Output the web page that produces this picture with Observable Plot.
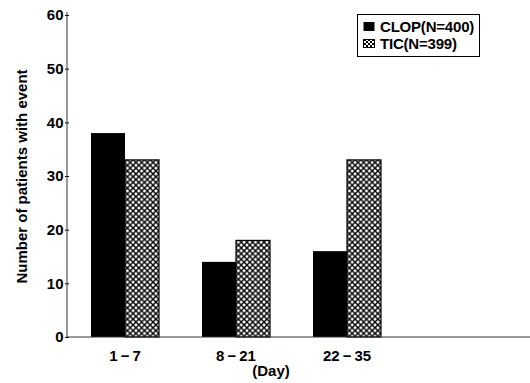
<!DOCTYPE html>
<html><head><meta charset="utf-8">
<script src="https://cdn.jsdelivr.net/npm/d3@7"></script>
<script src="https://cdn.jsdelivr.net/npm/@observablehq/plot@0.6"></script>
<style>
body{margin:0;background:#fff;}
#wrap{position:relative;width:530px;height:383px;font-family:"Liberation Sans",Arial,sans-serif;}
#legend{position:absolute;left:357px;top:14px;width:123px;height:43px;border:1px solid #000;box-sizing:border-box;background:#fff;font-weight:bold;font-size:15px;line-height:17px;padding-top:3px;padding-left:5px;letter-spacing:-0.2px;}
#legend .row{display:flex;align-items:center;height:17px;}
#legend svg{margin-right:3px;}
</style></head><body><div id="wrap"></div>
<script>
const days = ["1\u2009\u2212\u20097", "8\u2009\u2212\u200921", "22\u2009\u2212\u200935"];
const series = ["CLOP", "TIC"];
const clopValues = [38, 14, 16];
const ticValues = [33, 18, 33];
const legendLabels = ["CLOP(N=400)", "TIC(N=399)"];
const yTicks = [0, 10, 20, 30, 40, 50, 60];
const yLabel = "Number of patients with event";
const xLabel = "(Day)";

const rows = days.flatMap((day, i) => [
  {day, series: series[0], value: clopValues[i]},
  {day, series: series[1], value: ticValues[i]}
]);

const ML = 67, MT = 15, MB = 46, W = 530, H = 383;
const font = "'Liberation Sans', Arial, sans-serif";

const chart = Plot.plot({
  width: W, height: H,
  marginLeft: ML, marginRight: 128, marginTop: MT, marginBottom: MB,
  style: {fontFamily: font, fontSize: "15px", fontWeight: "bold", color: "#000", background: "#fff", overflow: "visible"},
  fx: {domain: days, padding: 0, insetLeft: 1.5, label: null, axis: null},
  x: {domain: series, paddingInner: 0, paddingOuter: 0.59, axis: null},
  y: {domain: [0, 60], label: null},
  marks: [
    Plot.barY(rows.filter(d => d.series === series[0]), {fx: "day", x: "series", y: "value", fill: "#000"}),
    Plot.barY(rows.filter(d => d.series === series[1]), {fx: "day", x: "series", y: "value", fill: "url(#xhatch)", stroke: "#000", strokeWidth: 1.2}),
    Plot.axisY({ticks: yTicks, tickSize: 4, tickPadding: 2, label: null, fontSize: 15, fontWeight: "bold"}),
    Plot.axisFx({anchor: "bottom", tickSize: 0, tickPadding: 13, label: null, fontSize: 15, fontWeight: "bold"}),
    Plot.text([{day: days[1]}], {fx: "day", frameAnchor: "bottom", dy: 38, dx: 35, text: () => xLabel, fontSize: 15, fontWeight: "bold"}),
    Plot.text([{day: days[0]}], {fx: "day", frameAnchor: "left", textAnchor: "middle", dx: -47, rotate: -90, text: () => yLabel, fontSize: 15, fontWeight: "bold"})
  ]
});

document.getElementById("wrap").appendChild(chart);

const svg = chart.tagName.toLowerCase() === "svg" ? chart : chart.querySelector("svg");
const ys = chart.scale("y");
const y0 = ys.apply(0), yTop = ys.apply(60);
const s = d3.select(svg);
const defs = s.insert("defs", ":first-child");
const P = 5.7;
const pat = defs.append("pattern").attr("id", "xhatch").attr("patternUnits", "userSpaceOnUse").attr("width", P).attr("height", P);
pat.append("rect").attr("width", P).attr("height", P).attr("fill", "#fff");
pat.append("path").attr("d", `M-1,-1L${P+1},${P+1}M${P+1},-1L-1,${P+1}`).attr("stroke", "#000").attr("stroke-width", 1.4);
s.append("line").attr("x1", ML).attr("x2", W).attr("y1", y0).attr("y2", y0).attr("stroke", "#333").attr("stroke-width", 1);
s.append("line").attr("x1", ML).attr("x2", ML).attr("y1", yTop - 3).attr("y2", y0).attr("stroke", "#333").attr("stroke-width", 1);

// legend
const legend = document.createElement("div");
legend.id = "legend";
legend.innerHTML = legendLabels.map((lab, i) => `<div class="row"><svg width="14" height="11">${i === 0
  ? '<rect x="0.5" y="1" width="11" height="9" fill="#000"/>'
  : '<defs><pattern id="lh" patternUnits="userSpaceOnUse" width="4" height="4"><rect width="4" height="4" fill="#fff"/><path d="M-1,-1L5,5M5,-1L-1,5" stroke="#000" stroke-width="1"/></pattern></defs><rect x="0.5" y="1.5" width="11" height="8" fill="url(#lh)" stroke="#000"/>'}</svg><span>${lab}</span></div>`).join("");
document.getElementById("wrap").appendChild(legend);
</script></body></html>
